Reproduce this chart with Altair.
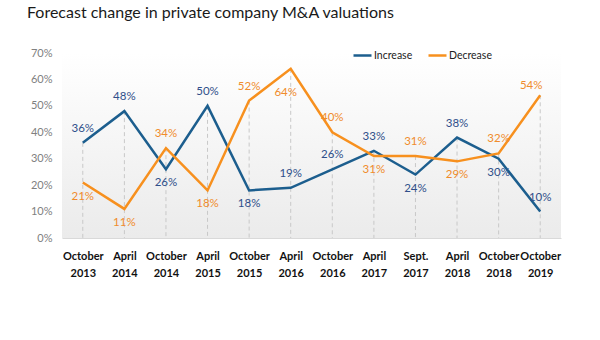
import altair as alt
import pandas as pd

periods = ["October 2013", "April 2014", "October 2014", "April 2015", "October 2015",
           "April 2016", "October 2016", "April 2017", "Sept. 2017", "April 2018",
           "October 2018", "October 2019"]
increase = [36, 48, 26, 50, 18, 19, 26, 33, 24, 38, 30, 10]
decrease = [21, 11, 34, 18, 52, 64, 40, 31, 31, 29, 32, 54]
series_names = ["Increase", "Decrease"]

# styles (kept separate from the data)
line_colors = ["#1c5e8e", "#f7901e"]
label_colors = ["#2f4f8a", "#f08c2c"]
increase_label_pos = ["above", "above", "below", "above", "below", "above",
                      "above", "above", "below", "above", "below", "above"]
decrease_label_pos = ["below", "below", "above", "below", "above", "belowleft",
                      "above", "below", "above", "below", "above", "aboveleft"]
label_offsets = {"above": (0, -14), "below": (0, 14), "belowleft": (-5, 24), "aboveleft": (-9, -9)}

rows = []
for name, vals, pos in [("Increase", increase, increase_label_pos),
                        ("Decrease", decrease, decrease_label_pos)]:
    for p, v, lp in zip(periods, vals, pos):
        rows.append({"period": p, "series": name, "value": v / 100, "label": f"{v}%", "pos": lp})
df = pd.DataFrame(rows)

W, H = 499, 185
FONT = "Lato"

x_scale = alt.Scale(type="point", padding=0.5)
y_scale = alt.Scale(domain=[0, 0.7])

x_axis = alt.Axis(title=None, labelAngle=0, labelAlign="center",
                  labelExpr="split(datum.label, ' ')",
                  labelFontSize=11, labelColor="#111111", labelFontWeight="bold",
                  labelPadding=12, labelLineHeight=17, labelFont=FONT,
                  labelOverlap=False, labelBaseline="top",
                  domainColor="#d9d9d9", ticks=False, grid=False)
y_axis = alt.Axis(title=None, format="%", values=[0, 0.1, 0.2, 0.3, 0.4, 0.5, 0.6, 0.7],
                  labelColor="#808080", labelFontSize=11, labelFont=FONT,
                  labelOverlap=False, labelFlush=False,
                  ticks=False, domain=False, grid=False, labelPadding=10)

x_enc = alt.X("period:N", sort=periods, scale=x_scale, axis=x_axis)
y_enc = alt.Y("value:Q", scale=y_scale, axis=y_axis)

bg = alt.Chart(pd.DataFrame({"a": [0]})).mark_rect(
    color=alt.Gradient(gradient="linear",
                       stops=[alt.GradientStop(color="#ffffff", offset=0),
                              alt.GradientStop(color="#ebebeb", offset=1)],
                       x1=0, x2=0, y1=0, y2=1)
).encode(x=alt.value(0), x2=alt.value(W), y=alt.value(0), y2=alt.value(H))

drops = alt.Chart(df).transform_aggregate(
    vmax="max(value)", groupby=["period"]
).mark_rule(color="#c8c8c8", strokeDash=[4, 3], strokeWidth=1).encode(
    x=x_enc, y=alt.Y("vmax:Q", scale=y_scale, axis=y_axis), y2=alt.datum(0)
)

lines = alt.Chart(df).mark_line(strokeWidth=2.5).encode(
    x=x_enc, y=y_enc,
    color=alt.Color("series:N", scale=alt.Scale(domain=series_names, range=line_colors),
                    legend=alt.Legend(title=None, orient="none", direction="horizontal",
                                      legendX=290, legendY=-8, symbolType="stroke",
                                      symbolSize=324, symbolStrokeWidth=2.5,
                                      labelFontSize=10.5, labelColor="#222222", labelFont=FONT,
                                      labelOffset=1, columnPadding=10))
)

def labels(pos):
    dx, dy = label_offsets[pos]
    return alt.Chart(df).transform_filter(alt.datum.pos == pos).mark_text(
        dx=dx, dy=dy, fontSize=11.5, font=FONT, baseline="middle"
    ).encode(
        x=x_enc, y=y_enc, text="label:N",
        color=alt.Color("series:N", scale=alt.Scale(domain=series_names, range=label_colors),
                        legend=None)
    )

chart = alt.layer(bg, drops, lines, *[labels(p) for p in label_offsets]).resolve_scale(
    color="independent"
).properties(
    width=W, height=H,
    autosize=alt.AutoSizeParams(type="none"),
    padding={"left": 62, "top": 53, "right": 39, "bottom": 102},
    title=alt.TitleParams("Forecast change in private company M&A valuations",
                          anchor="start", fontSize=16, font=FONT, fontWeight="normal",
                          color="#1a1a1a", dx=-35, dy=-20, frame="group")
).configure_view(stroke=None)

chart.save("out.html", embed_options={"renderer": "svg", "actions": False})
